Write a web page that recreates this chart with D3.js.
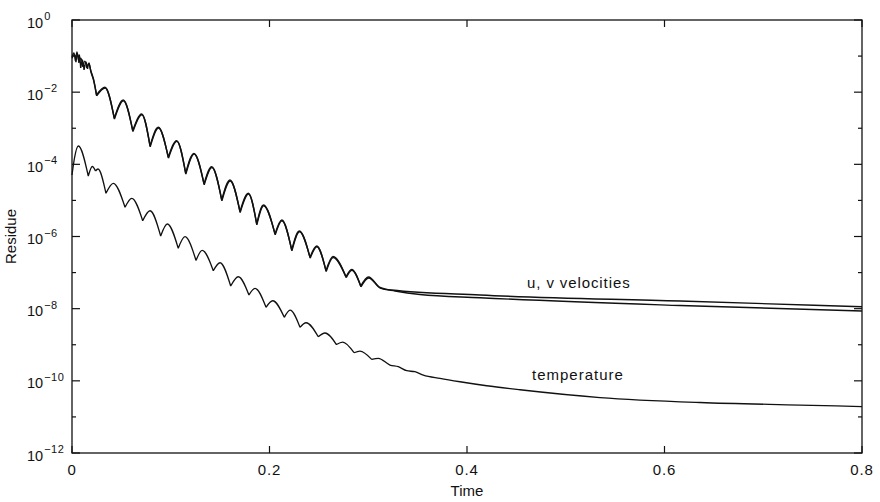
<!DOCTYPE html>
<html lang="en">
<head>
    <meta charset="UTF-8">
    <title>Residue vs Time</title>
    <script src="https://cdn.jsdelivr.net/npm/d3@7"></script>
    <style>
        body {
            margin: 0;
            padding: 0;
            background: #fff;
        }
        svg text {
            font-family: "Liberation Sans", Arial, Helvetica, sans-serif;
            fill: #111;
        }
    </style>
</head>
<body>
    <svg id="chart" width="880" height="502"></svg>
    <script>
        // Values. Residues are kept as log10 exponents.
        const uTime = [0.000, 0.002, 0.0035, 0.005, 0.0066, 0.0076, 0.0088, 0.0106, 0.0122, 0.0142, 0.0157, 0.0172, 0.0192, 0.0218,
            0.0248, 0.0334, 0.0428, 0.0519, 0.0615, 0.0706, 0.0790, 0.0874, 0.0975, 0.1060, 0.1151, 0.1235, 0.1337, 0.1415,
            0.1516, 0.1600, 0.1701, 0.1786, 0.1870, 0.1939, 0.2056, 0.2124, 0.2225, 0.2302, 0.2410, 0.2478, 0.2572, 0.2643,
            0.2775, 0.2832, 0.2924, 0.3003, 0.3119, 0.3237, 0.4132, 0.6157, 0.8];
        const uExp = [-1.025, -0.915, -1.136, -0.887, -1.109, -0.970, -1.330, -1.109, -1.386, -1.164, -1.358, -1.192, -1.441, -1.663,
            -2.079, -1.865, -2.724, -2.217, -3.068, -2.605, -3.492, -2.974, -3.805, -3.345, -4.249, -3.695, -4.545, -4.066,
            -4.989, -4.435, -5.313, -4.803, -5.654, -5.127, -5.931, -5.543, -6.375, -5.848, -6.577, -6.264, -6.948, -6.555,
            -7.115, -6.910, -7.373, -7.123, -7.408, -7.483, -7.622, -7.788, -7.946];

        const vTime = [0.000, 0.0025, 0.004, 0.0055, 0.007, 0.009, 0.011, 0.013, 0.015, 0.017, 0.019, 0.0218,
            0.0250, 0.0336, 0.0430, 0.0521, 0.0617, 0.0708, 0.0792, 0.0876, 0.0977, 0.1062, 0.1153, 0.1237, 0.1339, 0.1417,
            0.1518, 0.1602, 0.1703, 0.1788, 0.1872, 0.1941, 0.2058, 0.2126, 0.2227, 0.2304, 0.2412, 0.2480, 0.2574, 0.2645,
            0.2777, 0.2834, 0.2926, 0.3005, 0.3121, 0.3271, 0.3524, 0.4132, 0.6157, 0.8];
        const vExp = [-1.060, -0.960, -1.170, -0.930, -1.190, -1.060, -1.300, -1.140, -1.330, -1.210, -1.400, -1.640,
            -2.100, -1.885, -2.745, -2.240, -3.090, -2.625, -3.515, -2.995, -3.830, -3.365, -4.270, -3.715, -4.570, -4.090,
            -5.010, -4.460, -5.335, -4.825, -5.675, -5.150, -5.955, -5.565, -6.400, -5.870, -6.600, -6.285, -6.970, -6.580,
            -7.140, -6.935, -7.395, -7.150, -7.430, -7.511, -7.608, -7.697, -7.913, -8.065];

        const tempTime = [0.000, 0.0025, 0.0064, 0.0165, 0.0206, 0.0238, 0.0263, 0.0344, 0.0418, 0.0537, 0.0605, 0.0716,
            0.0790, 0.0898, 0.0965, 0.1076, 0.1144, 0.1256, 0.1318, 0.1431, 0.1499, 0.1607, 0.1684, 0.1792, 0.1853, 0.1965,
            0.2032, 0.2150, 0.2208, 0.2309, 0.2370, 0.2494, 0.2562, 0.2678, 0.2741, 0.2856, 0.2916, 0.3035, 0.3102, 0.3220,
            0.3304, 0.3389, 0.3473, 0.3558, 0.3727, 0.3929, 0.4200, 0.4537, 0.5347, 0.6359, 0.7372, 0.8];
        const tempExp = [-4.296, -3.825, -3.492, -4.324, -4.060, -4.185, -4.130, -4.803, -4.526, -5.191, -4.942, -5.563,
            -5.286, -5.987, -5.654, -6.328, -6.006, -6.666, -6.383, -6.948, -6.727, -7.373, -7.115, -7.622, -7.436, -7.963,
            -7.780, -8.240, -8.038, -8.517, -8.390, -8.778, -8.675, -8.994, -8.925, -9.221, -9.174, -9.404, -9.376, -9.562,
            -9.609, -9.720, -9.748, -9.839, -9.931, -10.025, -10.136, -10.247, -10.463, -10.601, -10.671, -10.712];

        const xTicks = [0, 0.2, 0.4, 0.6, 0.8];
        const xTickLabels = ["0", "0.2", "0.4", "0.6", "0.8"];
        const yDecades = [0, -1, -2, -3, -4, -5, -6, -7, -8, -9, -10, -11, -12];
        const yLabelDecades = [0, -2, -4, -6, -8, -10, -12];

        const plotLeft = 72, plotRight = 862, plotTop = 20, plotBottom = 453;
        const svg = d3.select('#chart');

        const x = d3.scaleLinear().domain([0, 0.8]).range([plotLeft, plotRight]);
        const y = d3.scaleLog().domain([1e-12, 1]).range([plotBottom, plotTop]);

        // frame
        svg.append('rect')
            .attr('x', plotLeft).attr('y', plotTop)
            .attr('width', plotRight - plotLeft).attr('height', plotBottom - plotTop)
            .attr('fill', 'none').attr('stroke', '#111').attr('stroke-width', 1.3);

        // x ticks, bottom and top
        xTicks.forEach((t, i) => {
            svg.append('line').attr('x1', x(t)).attr('x2', x(t)).attr('y1', plotBottom).attr('y2', plotBottom - 7)
                .attr('stroke', '#111').attr('stroke-width', 1.2);
            svg.append('line').attr('x1', x(t)).attr('x2', x(t)).attr('y1', plotTop).attr('y2', plotTop + 7)
                .attr('stroke', '#111').attr('stroke-width', 1.2);
            svg.append('text').attr('x', x(t)).attr('y', 475)
                .attr('text-anchor', 'middle').attr('font-size', 15)
                .attr('letter-spacing', 0.8)
                .text(xTickLabels[i]);
        });

        // y ticks, left and right: longer on labelled decades
        yDecades.forEach(d => {
            const len = yLabelDecades.includes(d) ? 8 : 4;
            const yy = y(Math.pow(10, d));
            svg.append('line').attr('x1', plotLeft).attr('x2', plotLeft + len).attr('y1', yy).attr('y2', yy)
                .attr('stroke', '#111').attr('stroke-width', 1.2);
            svg.append('line').attr('x1', plotRight).attr('x2', plotRight - len).attr('y1', yy).attr('y2', yy)
                .attr('stroke', '#111').attr('stroke-width', 1.2);
        });

        yLabelDecades.forEach(d => {
            const yy = y(Math.pow(10, d));
            const lab = svg.append('text').attr('x', 27).attr('y', yy + 7.5).attr('font-size', 14.5);
            lab.append('tspan').text('10');
            lab.append('tspan').attr('dy', -7.5).attr('dx', 1).attr('font-size', 11)
                .attr('letter-spacing', 0.5)
                .text(d === 0 ? '0' : '\u2212' + Math.abs(d));
        });

        // axis titles
        svg.append('text').attr('x', (plotLeft + plotRight) / 2).attr('y', 496)
            .attr('text-anchor', 'middle').attr('font-size', 15).text('Time');
        svg.append('text')
            .attr('transform', `translate(16,${(plotTop + plotBottom) / 2}) rotate(-90)`)
            .attr('text-anchor', 'middle').attr('font-size', 15).text('Residue');

        // split a series at its local minima so the scallops keep sharp cusps
        function segments(times, exps) {
            const pts = times.map((t, i) => [t, exps[i]]);
            const segs = [];
            let cur = [pts[0]];
            for (let i = 1; i < pts.length; i++) {
                cur.push(pts[i]);
                if (i < pts.length - 1 && pts[i][1] < pts[i - 1][1] && pts[i][1] < pts[i + 1][1]) {
                    segs.push(cur);
                    cur = [pts[i]];
                }
            }
            segs.push(cur);
            return segs;
        }

        const line = d3.line()
            .x(d => x(d[0]))
            .y(d => y(Math.pow(10, d[1])))
            .curve(d3.curveMonotoneX);

        const series = [
            { time: uTime, exp: uExp, width: 1.4 },
            { time: vTime, exp: vExp, width: 1.4 },
            { time: tempTime, exp: tempExp, width: 1.3 }
        ];

        svg.selectAll('path.series')
            .data(series)
            .enter()
            .append('path')
            .attr('class', 'series')
            .attr('d', s => segments(s.time, s.exp).map(seg => line(seg)).join(''))
            .attr('fill', 'none')
            .attr('stroke', '#111')
            .attr('stroke-width', s => s.width)
            .attr('stroke-linejoin', 'round');

        // curve labels
        svg.append('text').attr('x', 527).attr('y', 288).attr('font-size', 15)
            .attr('letter-spacing', 0.9).text('u, v velocities');
        svg.append('text').attr('x', 532).attr('y', 380).attr('font-size', 15)
            .attr('letter-spacing', 1).text('temperature');
    </script>
</body>
</html>
